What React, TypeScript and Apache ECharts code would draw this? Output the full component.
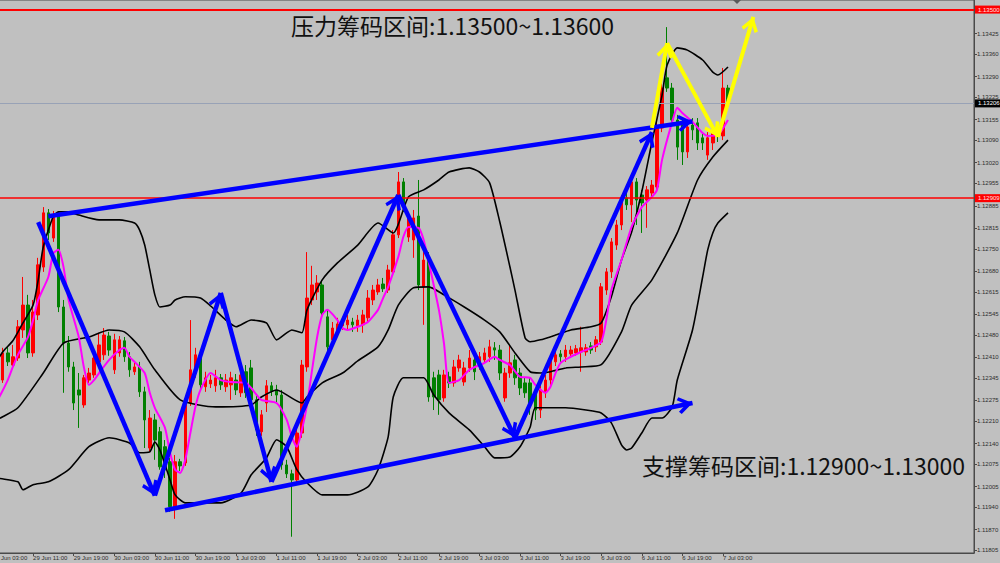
import React, { useEffect, useRef } from 'react';
import * as echarts from 'echarts';

// ---------- DATA ----------
const START_TIME = Date.UTC(2020, 5, 29, 3); // 29 Jun 03:00 (H1 bars)
const CATEGORY_COUNT = 194;
const LAST_LABEL_INDEX = 144;
const MONTHS = ['Jan', 'Feb', 'Mar', 'Apr', 'May', 'Jun', 'Jul', 'Aug', 'Sep', 'Oct', 'Nov', 'Dec'];

// [open, close, low, high]
const candles: number[][] = [
  [1.12324, 1.12346, 1.12308, 1.12365], [1.12346, 1.12371, 1.12333, 1.12386], [1.12339, 1.12424, 1.1233, 1.1244],
  [1.12424, 1.12396, 1.12383, 1.12443], [1.12386, 1.12412, 1.12374, 1.12449], [1.12408, 1.12506, 1.12399, 1.12527],
  [1.12496, 1.12574, 1.12471, 1.12662], [1.12574, 1.12424, 1.12408, 1.12606], [1.12424, 1.12552, 1.12412, 1.1259],
  [1.12543, 1.127, 1.12527, 1.12722], [1.12693, 1.12863, 1.12678, 1.12881], [1.12863, 1.128, 1.12778, 1.12875],
  [1.12784, 1.12856, 1.12772, 1.12869], [1.12856, 1.12568, 1.12552, 1.12866], [1.12568, 1.12455, 1.12299, 1.1259],
  [1.12455, 1.1238, 1.12365, 1.12477], [1.1238, 1.12267, 1.12245, 1.12396], [1.12308, 1.12292, 1.12189, 1.12361],
  [1.12261, 1.12346, 1.12252, 1.12355], [1.12339, 1.12361, 1.1233, 1.12377], [1.12355, 1.12408, 1.12346, 1.12433],
  [1.12396, 1.12449, 1.12377, 1.12487], [1.12418, 1.1248, 1.12402, 1.12502], [1.12477, 1.12433, 1.12415, 1.1249],
  [1.12371, 1.12465, 1.12358, 1.12484], [1.12424, 1.12465, 1.12412, 1.12477], [1.12462, 1.12412, 1.12396, 1.12474],
  [1.12412, 1.12371, 1.12349, 1.12427], [1.12365, 1.1238, 1.12355, 1.12396], [1.1238, 1.12302, 1.12286, 1.12396],
  [1.12302, 1.12214, 1.12126, 1.12318], [1.12126, 1.1222, 1.12114, 1.12245], [1.12214, 1.12151, 1.12089, 1.12233],
  [1.12177, 1.12067, 1.12058, 1.12192], [1.1213, 1.12058, 1.12032, 1.12151], [1.12083, 1.11942, 1.11926, 1.12095],
  [1.11938, 1.12083, 1.11904, 1.12104], [1.12083, 1.1207, 1.12054, 1.12092], [1.12079, 1.12271, 1.1207, 1.12283],
  [1.12267, 1.12371, 1.12258, 1.12527], [1.12365, 1.12418, 1.12346, 1.1244], [1.12415, 1.12324, 1.12308, 1.12427],
  [1.12318, 1.12346, 1.12302, 1.12365], [1.12327, 1.12339, 1.12314, 1.12355], [1.12321, 1.12346, 1.12302, 1.12371],
  [1.12346, 1.12324, 1.12308, 1.12358], [1.12318, 1.12339, 1.12302, 1.12358], [1.12324, 1.12346, 1.12277, 1.12365],
  [1.12339, 1.12308, 1.12292, 1.12358], [1.12299, 1.12355, 1.12286, 1.12377], [1.12365, 1.12299, 1.12283, 1.12386],
  [1.12377, 1.12277, 1.12261, 1.12402], [1.12277, 1.12183, 1.12164, 1.12289], [1.12177, 1.1223, 1.12164, 1.12245],
  [1.12267, 1.12321, 1.12239, 1.12339], [1.12321, 1.12305, 1.12289, 1.12333], [1.12308, 1.12292, 1.12264, 1.12324],
  [1.12292, 1.12073, 1.12058, 1.12308], [1.12073, 1.12045, 1.12032, 1.12089], [1.12045, 1.12026, 1.11848, 1.12058],
  [1.12026, 1.12173, 1.1201, 1.12189], [1.12173, 1.12386, 1.12158, 1.12402], [1.1238, 1.12596, 1.12365, 1.1274],
  [1.1259, 1.12637, 1.12574, 1.12697], [1.12615, 1.12643, 1.1259, 1.12668], [1.12637, 1.12549, 1.12534, 1.12653],
  [1.12537, 1.12443, 1.12427, 1.12559], [1.12465, 1.12502, 1.12449, 1.12521], [1.12496, 1.12515, 1.1248, 1.12534],
  [1.12509, 1.12521, 1.12496, 1.12537], [1.12512, 1.12527, 1.12496, 1.12543], [1.12521, 1.12512, 1.1249, 1.12534],
  [1.12509, 1.12527, 1.1249, 1.12543], [1.12512, 1.12543, 1.12487, 1.12559], [1.12534, 1.12596, 1.12521, 1.12621],
  [1.1259, 1.12621, 1.12574, 1.12637], [1.12615, 1.12637, 1.12606, 1.12656], [1.1264, 1.12625, 1.12615, 1.12659],
  [1.12621, 1.12684, 1.12612, 1.127], [1.12678, 1.12794, 1.12668, 1.12809], [1.12794, 1.1296, 1.12784, 1.12991],
  [1.1296, 1.12881, 1.12866, 1.12972], [1.12787, 1.12847, 1.12772, 1.12859], [1.12778, 1.12847, 1.12722, 1.12872],
  [1.12853, 1.12637, 1.12621, 1.12966], [1.12631, 1.12715, 1.12512, 1.1274], [1.12722, 1.12286, 1.12271, 1.1274],
  [1.12346, 1.12286, 1.12245, 1.12365], [1.12355, 1.12277, 1.1223, 1.12371], [1.12283, 1.12355, 1.12271, 1.12371],
  [1.12349, 1.1233, 1.12314, 1.12365], [1.1233, 1.1238, 1.12318, 1.12402], [1.12377, 1.12402, 1.12365, 1.12418],
  [1.12333, 1.12377, 1.12321, 1.12396], [1.12377, 1.12408, 1.12365, 1.12433], [1.12402, 1.12365, 1.12339, 1.12418],
  [1.12386, 1.12412, 1.12371, 1.12427], [1.12402, 1.12424, 1.12393, 1.1244], [1.12412, 1.12443, 1.12396, 1.12465],
  [1.1244, 1.12433, 1.12402, 1.12458], [1.12433, 1.12361, 1.12339, 1.12449], [1.12283, 1.12361, 1.12271, 1.12377],
  [1.12361, 1.12393, 1.12346, 1.12449], [1.12402, 1.12346, 1.12324, 1.12418], [1.12361, 1.12314, 1.12292, 1.12377],
  [1.1233, 1.12299, 1.12283, 1.12346], [1.1233, 1.12267, 1.1223, 1.12346], [1.12299, 1.12245, 1.12214, 1.12314],
  [1.12245, 1.12308, 1.1222, 1.12324], [1.12299, 1.12339, 1.12283, 1.12355], [1.12339, 1.12402, 1.12324, 1.12418],
  [1.12396, 1.12418, 1.12383, 1.12433], [1.12421, 1.12412, 1.12396, 1.12433], [1.12412, 1.12433, 1.12396, 1.12449],
  [1.12421, 1.12433, 1.12408, 1.12446], [1.12424, 1.12437, 1.12415, 1.12449], [1.12427, 1.1244, 1.12365, 1.12506],
  [1.12427, 1.1244, 1.12415, 1.12452], [1.12446, 1.12433, 1.12421, 1.12458], [1.12443, 1.12465, 1.12427, 1.12477],
  [1.12458, 1.12631, 1.12449, 1.12643], [1.12621, 1.12678, 1.12606, 1.1269], [1.12678, 1.12772, 1.12659, 1.12784],
  [1.12762, 1.12825, 1.12747, 1.12841], [1.12825, 1.12903, 1.12809, 1.12919], [1.1291, 1.12888, 1.12872, 1.12928],
  [1.12888, 1.1296, 1.12834, 1.12972], [1.1296, 1.12903, 1.12825, 1.12972], [1.12919, 1.12894, 1.128, 1.12935],
  [1.12903, 1.12935, 1.12816, 1.12947], [1.12925, 1.1295, 1.1291, 1.12966], [1.12944, 1.13129, 1.12935, 1.13148],
  [1.13129, 1.13254, 1.13116, 1.13279], [1.13286, 1.13254, 1.13242, 1.13445], [1.13254, 1.13154, 1.13138, 1.1327],
  [1.13154, 1.13069, 1.13029, 1.1317], [1.13138, 1.13054, 1.13013, 1.1316], [1.13054, 1.13132, 1.13035, 1.13154],
  [1.13138, 1.13123, 1.13091, 1.1316], [1.13145, 1.13082, 1.1306, 1.1316], [1.13098, 1.13082, 1.1306, 1.13113],
  [1.13044, 1.13098, 1.13029, 1.13116], [1.13082, 1.13113, 1.1306, 1.13129], [1.13113, 1.13104, 1.13085, 1.13123],
  [1.13104, 1.13254, 1.13091, 1.13317], [1.13254, 1.13206, 1.13195, 1.13264],
];

// Bollinger bands and moving average, read at sample bars: [bar index, price]
const upperBand: number[][] = [
  [0, 1.12377], [2, 1.12427], [4, 1.12462], [6, 1.12518], [8, 1.12574], [9, 1.12653], [10, 1.12756], [12, 1.12853],
  [13, 1.12866], [15, 1.12866], [17, 1.12856], [21, 1.12841], [25, 1.12841], [28, 1.12831], [29, 1.12809], [30, 1.12762],
  [31, 1.12684], [32, 1.12606], [33, 1.12568], [35, 1.12574], [36, 1.1259], [38, 1.126], [41, 1.12596], [43, 1.12571],
  [46, 1.12527], [48, 1.12506], [51, 1.12527], [54, 1.12518], [56, 1.12465], [58, 1.12487], [59, 1.12496], [61, 1.12487],
  [62, 1.12559], [65, 1.12653], [68, 1.12706], [72, 1.12762], [76, 1.12831], [79, 1.128], [82, 1.12913], [85, 1.12935],
  [88, 1.12966], [90, 1.12991], [94, 1.13004], [96, 1.12991], [98, 1.12957], [100, 1.12835], [102, 1.12694], [103, 1.12621],
  [105, 1.12471], [106, 1.12459], [108, 1.12465], [111, 1.1248], [114, 1.12496], [118, 1.12506], [120, 1.12518],
  [122, 1.126], [124, 1.12715], [126, 1.12803], [128, 1.12929], [130, 1.13085], [132, 1.13232], [133, 1.13326],
  [135, 1.1338], [137, 1.13373], [140, 1.13342], [142, 1.13304], [143, 1.13295], [145, 1.1332],
];
const middleBand: number[][] = [
  [0, 1.12208], [2, 1.12224], [5, 1.12252], [10, 1.12361], [14, 1.12455], [19, 1.12474], [23, 1.12496], [26, 1.1249],
  [29, 1.12443], [32, 1.12371], [37, 1.12277], [44, 1.12255], [51, 1.12261], [53, 1.12286], [56, 1.12308], [57, 1.12302],
  [61, 1.12267], [62, 1.12286], [65, 1.1233], [69, 1.12361], [72, 1.12399], [76, 1.12443], [78, 1.12496], [80, 1.12574],
  [83, 1.12628], [86, 1.12631], [89, 1.12606], [93, 1.12568], [97, 1.12527], [100, 1.1249], [103, 1.12424], [106, 1.12365],
  [108, 1.12361], [110, 1.12365], [113, 1.12377], [116, 1.1238], [120, 1.12387], [124, 1.1249], [126, 1.12574],
  [130, 1.12653], [135, 1.128], [139, 1.12966], [142, 1.13038], [145, 1.13091],
];
const lowerBand: number[][] = [
  [0, 1.12039], [1, 1.12032], [5, 1.1202], [6, 1.11995], [8, 1.12011], [11, 1.1202], [15, 1.12058], [19, 1.1213],
  [23, 1.12158], [27, 1.12142], [29, 1.12111], [31, 1.12114], [32, 1.12145], [33, 1.1212], [35, 1.12026], [36, 1.11979],
  [38, 1.11954], [40, 1.11954], [45, 1.11954], [49, 1.11985], [51, 1.12042], [54, 1.12095], [56, 1.12152], [58, 1.1213],
  [60, 1.12058], [62, 1.12017], [65, 1.11979], [70, 1.11979], [74, 1.12004], [76, 1.12058], [78, 1.12161], [79, 1.12286],
  [81, 1.12346], [85, 1.12346], [87, 1.12292], [90, 1.12236], [94, 1.12183], [97, 1.1213], [99, 1.12095], [102, 1.12098],
  [104, 1.1213], [106, 1.12192], [107, 1.12252], [110, 1.12252], [113, 1.12252], [117, 1.12245], [120, 1.12236],
  [122, 1.12205], [124, 1.12136], [125, 1.1212], [126, 1.12126], [128, 1.12173], [130, 1.1222], [132, 1.1222],
  [134, 1.12255], [135, 1.12339], [138, 1.12496], [140, 1.12662], [141, 1.12747], [142, 1.128], [143, 1.12831], [145, 1.12863],
];
const movingAverage: number[][] = [
  [0, 1.12261], [1, 1.12277], [3, 1.12339], [4, 1.1238], [5, 1.12418], [7, 1.12474], [8, 1.12527], [9, 1.1259],
  [11, 1.12662], [12, 1.12737], [13, 1.12747], [14, 1.12693], [15, 1.1259], [17, 1.12474], [18, 1.1238], [19, 1.12324],
  [20, 1.12339], [21, 1.12361], [23, 1.12402], [25, 1.12433], [26, 1.1244], [27, 1.12412], [28, 1.12396], [30, 1.12361],
  [31, 1.12299], [32, 1.12252], [34, 1.12189], [35, 1.12111], [36, 1.12058], [37, 1.12048], [38, 1.12089], [39, 1.12173],
  [40, 1.12255], [41, 1.12308], [43, 1.12361], [45, 1.12339], [47, 1.12333], [50, 1.1233], [51, 1.12314], [53, 1.12277],
  [56, 1.12267], [58, 1.12214], [59, 1.12161], [60, 1.1213], [61, 1.12183], [62, 1.12261], [63, 1.12371], [64, 1.12474],
  [65, 1.12543], [66, 1.12559], [68, 1.12527], [69, 1.12502], [70, 1.12496], [72, 1.12506], [74, 1.12521], [76, 1.12559],
  [77, 1.12596], [78, 1.12631], [80, 1.12725], [81, 1.12788], [82, 1.12819], [84, 1.12816], [85, 1.12778], [86, 1.12709],
  [88, 1.12559], [89, 1.12455], [90, 1.1233], [92, 1.12339], [94, 1.12371], [97, 1.12393], [99, 1.12412], [100, 1.12402],
  [102, 1.12386], [104, 1.12349], [106, 1.12346], [107, 1.12324], [109, 1.12299], [110, 1.12318], [111, 1.12361],
  [112, 1.12393], [114, 1.12412], [116, 1.12427], [118, 1.1244], [120, 1.12458], [121, 1.12527], [122, 1.12621],
  [124, 1.12715], [126, 1.12819], [128, 1.12881], [130, 1.12913], [131, 1.12935], [132, 1.13029], [134, 1.13148],
  [135, 1.13192], [136, 1.13176], [138, 1.13148], [140, 1.13113], [141, 1.13104], [143, 1.13107], [145, 1.13154],
];

// Analyst drawings: [[bar, price], [bar, price]]
const blueArrows: number[][][] = [
  [[11, 1.12852], [138, 1.13149]],
  [[34, 1.11931], [138, 1.12267]],
  [[9, 1.12834], [32, 1.11977]],
  [[32, 1.11977], [45, 1.12612]],
  [[45, 1.12612], [55, 1.1202]],
  [[55, 1.1202], [80, 1.12919]],
  [[80, 1.12919], [103, 1.12158]],
  [[103, 1.12158], [130, 1.13116]],
];
const yellowArrows: number[][][] = [
  [[130, 1.13129], [133, 1.13395]],
  [[133, 1.13395], [143, 1.13101]],
  [[143, 1.13101], [150, 1.13477]],
];

const priceTicks = [
  1.13425, 1.1336, 1.1329, 1.13225, 1.13155, 1.1309, 1.1302, 1.12955, 1.12885, 1.12815, 1.1275, 1.1268, 1.12615,
  1.12545, 1.1248, 1.1241, 1.12345, 1.12275, 1.1221, 1.1214, 1.12075, 1.12005, 1.1194, 1.1187, 1.11805,
];
const resistanceLevel = 1.135;
const supportLevel = 1.12909;
const bidLevel = 1.13206;
const Y_MIN = 1.11797;
const Y_MAX = 1.1353;

const resistanceText = '压力筹码区间:1.13500~1.13600';
const supportText = '支撑筹码区间:1.12900~1.13000';

// ---------- helpers ----------
function buildCategories(): string[] {
  const out: string[] = [];
  let t = START_TIME;
  while (out.length < CATEGORY_COUNT) {
    const d = new Date(t);
    const wd = d.getUTCDay();
    if (wd !== 0 && wd !== 6) {
      out.push(`${d.getUTCDate()} ${MONTHS[d.getUTCMonth()]} ${String(d.getUTCHours()).padStart(2, '0')}:00`);
    }
    t += 3600000;
  }
  return out;
}

const CHEVRON = 'path://M50,-92L50.01,-92L50,-91.99Z M50,0L100,78L84,92L50,40L16,92L0,78Z';

function arrowMarkLine(arrows: number[][][], color: string, width: number) {
  return {
    silent: true,
    animation: false,
    precision: 5,
    symbol: ['none', CHEVRON],
    symbolSize: [17, 30],
    label: { show: false },
    emphasis: { disabled: true },
    lineStyle: { color, width, type: 'solid', opacity: 1 },
    data: arrows.map(([a, b]) => [{ coord: a }, { coord: b }]),
  };
}

function levelSeries(value: number, color: string, width: number, labelBg: string, labelColor: string, z: number) {
  return {
    type: 'line',
    data: [],
    z,
    markLine: {
      silent: true,
      animation: false,
      precision: 5,
      symbol: ['none', 'none'],
      emphasis: { disabled: true },
      lineStyle: { color, width, type: 'solid', opacity: 1 },
      label: {
        show: true,
        position: 'end',
        formatter: value.toFixed(5),
        backgroundColor: labelBg,
        color: labelColor,
        fontSize: 6,
        fontFamily: 'Liberation Sans',
        padding: [1, 3, 1, 3],
        distance: 1,
      },
      data: [{ yAxis: value }],
    },
  };
}

export default function App() {
  const ref = useRef<HTMLDivElement>(null);

  useEffect(() => {
    if (!ref.current) return;
    const categories = buildCategories();
    const chart = echarts.init(ref.current, null, { renderer: 'svg' });
    const axisColor = '#4a4a4a';
    const textColor = '#2e2e2e';

    chart.setOption({
      animation: false,
      backgroundColor: '#c0c0c0',
      grid: {
        left: -10,
        right: 26,
        top: 0,
        bottom: 10,
        show: true,
        borderColor: axisColor,
        borderWidth: 1,
        outerBoundsMode: 'none',
        containLabel: false,
      },
      xAxis: {
        type: 'category',
        data: categories,
        boundaryGap: true,
        axisLine: { show: true, lineStyle: { color: axisColor, width: 1 } },
        axisTick: {
          show: true,
          alignWithLabel: true,
          length: 3,
          interval: (i: number) => i % 8 === 0 && i <= LAST_LABEL_INDEX,
          lineStyle: { color: axisColor },
        },
        axisLabel: {
          interval: (i: number) => i % 8 === 0 && i <= LAST_LABEL_INDEX,
          align: 'left',
          fontSize: 6,
          fontFamily: 'Liberation Sans',
          color: textColor,
          margin: 2,
        },
        splitLine: { show: false },
      },
      yAxis: {
        type: 'value',
        position: 'right',
        min: Y_MIN,
        max: Y_MAX,
        axisLine: { show: true, lineStyle: { color: axisColor } },
        axisTick: { show: true, length: 3, customValues: priceTicks, lineStyle: { color: axisColor } },
        axisLabel: {
          customValues: priceTicks,
          fontSize: 6,
          fontFamily: 'Liberation Sans',
          color: textColor,
          margin: 3,
          formatter: (v: number) => v.toFixed(5),
        },
        splitLine: { show: false },
      },
      series: [
        {
          type: 'candlestick',
          data: candles,
          barWidth: 3,
          silent: true,
          z: 2,
          itemStyle: {
            color: '#ff0000',
            color0: '#008000',
            borderColor: '#ff0000',
            borderColor0: '#008000',
            borderWidth: 1,
          },
        },
        levelSeries(bidLevel, '#98a2b6', 1, '#000000', '#ffffff', 5),
        levelSeries(resistanceLevel, '#ff0000', 2, '#ff0000', '#ffe0e0', 6),
        levelSeries(supportLevel, '#ff0000', 1.6, '#ff0000', '#ffe0e0', 6),
        ...[upperBand, middleBand, lowerBand].map((band) => ({
          type: 'line',
          data: band,
          symbol: 'none',
          smooth: 0.2,
          silent: true,
          z: 3,
          lineStyle: { color: '#000000', width: 1.6 },
        })),
        {
          type: 'line',
          data: movingAverage,
          symbol: 'none',
          smooth: 0.2,
          silent: true,
          z: 4,
          lineStyle: { color: '#ff00ff', width: 2 },
        },
        {
          type: 'line',
          data: [],
          z: 10,
          markLine: arrowMarkLine(blueArrows, '#0000ff', 4.5),
        },
        {
          type: 'line',
          data: [],
          z: 11,
          markLine: arrowMarkLine(yellowArrows, '#ffff00', 4),
        },
      ],
      graphic: [
        {
          type: 'text',
          left: 291,
          top: 13,
          z: 20,
          style: { text: resistanceText, fontSize: 23, fontFamily: 'Noto Sans CJK SC', fill: '#111111' },
        },
        {
          type: 'text',
          left: 642,
          top: 453,
          z: 20,
          style: { text: supportText, fontSize: 23, fontFamily: 'Noto Sans CJK SC', fill: '#111111' },
        },
        {
          type: 'polygon',
          z: 20,
          shape: { points: [[733, 0], [741, 0], [737, 4]] },
          style: { fill: '#5a5a5a' },
        },
      ],
    });

    return () => chart.dispose();
  }, []);

  return <div ref={ref} style={{ position: 'fixed', left: 0, top: 0, width: 1000, height: 563 }} />;
}
